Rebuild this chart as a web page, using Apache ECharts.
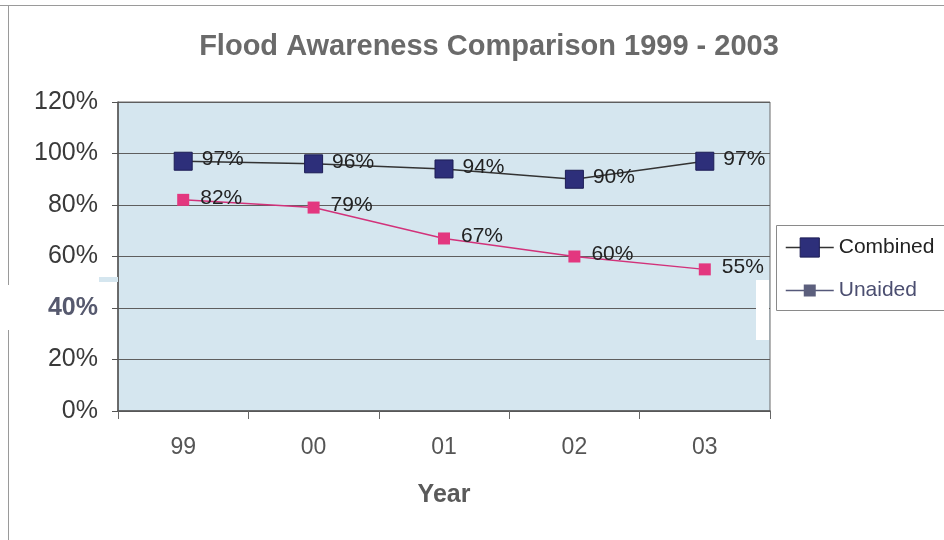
<!DOCTYPE html>
<html>
<head>
<meta charset="utf-8">
<script src="https://cdn.jsdelivr.net/npm/echarts@6/dist/echarts.min.js"></script>
<style>
  html, body { margin: 0; padding: 0; background: #ffffff; }
  #chart { width: 944px; height: 540px; }
</style>
</head>
<body>
<div id="chart"></div>
<script>
// Survey years (two-digit labels) and awareness rates in percent
const years = ['99', '00', '01', '02', '03'];
const combined = [97, 96, 94, 90, 97];
const unaided = [82, 79, 67, 60, 55];
const yTicks = [0, 20, 40, 60, 80, 100, 120];

const chart = echarts.init(document.getElementById('chart'), null, { renderer: 'canvas' });

const baseFont = 'Liberation Sans, Arial, sans-serif';

// one legend entry per component so each key can have its own marker size
const legendCommon = {
  orient: 'vertical',
  left: 785,
  padding: 0,
  itemWidth: 48,
  itemGap: 0,
  textStyle: { fontFamily: baseFont, fontSize: 21, color: '#222' }
};

chart.setOption({
  animation: false,
  backgroundColor: '#ffffff',
  title: {
    text: 'Flood Awareness Comparison 1999 - 2003',
    left: 484,
    top: 27,
    textAlign: 'center',
    textStyle: {
      fontFamily: baseFont,
      fontSize: 29,
      fontWeight: 'bold',
      color: '#6a6a6a'
    }
  },
  grid: {
    left: 118,
    right: 174,
    top: 102,
    bottom: 129,
    show: true,
    backgroundColor: '#d5e6ef',
    borderColor: '#6b6b6b',
    borderWidth: 1
  },
  legend: [
    Object.assign({}, legendCommon, {
      top: 237,
      itemHeight: 24,
      data: [{
        name: 'Combined',
        itemStyle: { color: '#2d2f7a', borderColor: '#1c1d55', borderWidth: 1 },
        lineStyle: { color: '#333', width: 1.5 },
        textStyle: { color: '#222' }
      }]
    }),
    Object.assign({}, legendCommon, {
      top: 280,
      itemHeight: 15,
      data: [{
        name: 'Unaided',
        itemStyle: { color: '#5c5f7d', borderColor: '#5c5f7d', borderWidth: 0 },
        lineStyle: { color: '#55587a', width: 1.5 },
        textStyle: { color: '#4b4e70' }
      }]
    })
  ],
  xAxis: {
    type: 'category',
    data: years,
    boundaryGap: true,
    name: 'Year',
    nameLocation: 'middle',
    nameGap: 72,
    nameTextStyle: {
      fontFamily: baseFont,
      fontSize: 25,
      fontWeight: 'bold',
      color: '#5a5a5a'
    },
    axisLine: { show: true, lineStyle: { color: '#555', width: 1.5 } },
    axisTick: { show: true, inside: false, length: 8, alignWithLabel: false, lineStyle: { color: '#666' } },
    axisLabel: {
      margin: 25,
      fontFamily: baseFont,
      fontSize: 23,
      color: '#555'
    },
    splitLine: { show: false }
  },
  yAxis: {
    type: 'value',
    min: 0,
    max: 120,
    interval: 20,
    axisLine: { show: true, lineStyle: { color: '#555', width: 1.5 } },
    axisTick: { show: true, length: 6, lineStyle: { color: '#555' } },
    axisLabel: {
      margin: 20,
      fontFamily: baseFont,
      fontSize: 25,
      color: '#3a3a3a',
      formatter: function (v) {
        return v === 40 ? '{b|' + v + '%}' : v + '%';
      },
      rich: {
        b: { fontFamily: baseFont, fontSize: 25, fontWeight: 'bold', color: '#56596e' }
      }
    },
    splitLine: { show: true, lineStyle: { color: '#5e5e5e', width: 1 } }
  },
  series: [
    {
      name: 'Combined',
      type: 'line',
      data: combined,
      symbol: 'rect',
      symbolSize: 18,
      itemStyle: { color: '#2d2f7a', borderColor: '#1c1d55', borderWidth: 1 },
      lineStyle: { color: '#333', width: 1.5 },
      label: {
        show: true,
        position: 'right',
        distance: 9,
        offset: [0, -2],
        formatter: '{c}%',
        fontFamily: baseFont,
        fontSize: 21,
        color: '#222'
      },
      z: 3
    },
    {
      name: 'Unaided',
      type: 'line',
      data: unaided,
      symbol: 'rect',
      symbolSize: 12,
      itemStyle: { color: '#e3377f', borderWidth: 0 },
      lineStyle: { color: '#d2327a', width: 1.5 },
      label: {
        show: true,
        position: 'right',
        distance: 11,
        offset: [0, -2],
        formatter: '{c}%',
        fontFamily: baseFont,
        fontSize: 21,
        color: '#222'
      },
      z: 2
    }
  ],
  graphic: [
    // legend frame
    { type: 'rect', shape: { x: 776.5, y: 225.5, width: 180, height: 85 }, style: { fill: '#ffffff', stroke: '#8a8a8a', lineWidth: 1 }, z: -1 },
    // outer frame edges
    { type: 'line', shape: { x1: 0, y1: 5.5, x2: 944, y2: 5.5 }, style: { stroke: '#9a9a9a', lineWidth: 1 }, z: 10 },
    { type: 'line', shape: { x1: 8.5, y1: 5, x2: 8.5, y2: 285 }, style: { stroke: '#9a9a9a', lineWidth: 1 }, z: 10 },
    { type: 'line', shape: { x1: 8.5, y1: 330, x2: 8.5, y2: 540 }, style: { stroke: '#9a9a9a', lineWidth: 1 }, z: 10 },
    // scan strips around the 40% band
    { type: 'rect', shape: { x: 99, y: 277, width: 19, height: 5 }, style: { fill: '#d5e6ef' }, z: 10 },
    { type: 'rect', shape: { x: 756, y: 280, width: 13, height: 60 }, style: { fill: '#ffffff' }, z: 10 }
  ]
});
</script>
</body>
</html>
